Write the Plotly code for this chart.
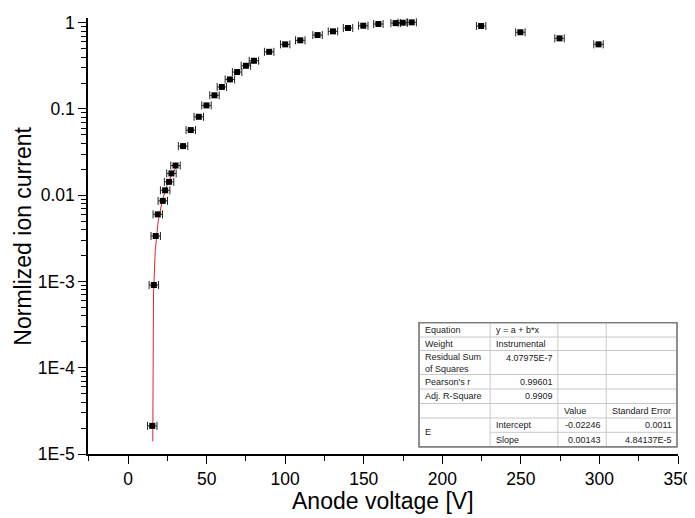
import numpy as np
import plotly.graph_objects as go

# ---------------- data ----------------
voltage = [15.4, 16.4, 17.6, 18.9, 22.1, 23.6, 26.1, 27.6, 30.2, 35.0, 39.9, 45.0, 49.9,
           55.0, 59.7, 64.8, 69.4, 75.0, 80.1, 89.8, 100.0, 109.6, 120.6, 130.4, 140.0,
           149.7, 159.3, 170.3, 174.8, 180.5, 224.7, 249.7, 274.6, 299.4]
ion_current = [2.12e-5, 9.1e-4, 3.37e-3, 6.0e-3, 8.6e-3, 1.14e-2, 1.43e-2, 1.79e-2, 2.21e-2,
               3.71e-2, 5.69e-2, 8.11e-2, 0.110, 0.144, 0.180, 0.220, 0.268, 0.317, 0.362,
               0.460, 0.561, 0.625, 0.719, 0.794, 0.869, 0.923, 0.966, 0.99, 1.0, 1.01,
               0.916, 0.775, 0.659, 0.561]
voltage_err = [3.0] * len(voltage)

# linear fit (from the fit table)
fit_intercept = -0.02246
fit_slope = 0.00143
fit_y_start = 1.4e-5
fit_x_end = 30.2

y_tickvals = [1e-5, 1e-4, 1e-3, 1e-2, 1e-1, 1]
y_ticktext = ["1E-5", "1E-4", "1E-3", "0.01", "0.1", "1"]

table_rows = [
    ["Equation", "y = a + b*x", "", ""],
    ["Weight", "Instrumental", "", ""],
    ["Residual Sum<br>of Squares", "4.07975E-7", "", ""],
    ["Pearson's r", "0.99601", "", ""],
    ["Adj. R-Square", "0.9909", "", ""],
    ["", "", "Value", "Standard Error"],
    ["E", "Intercept", "-0.02246", "0.0011"],
    ["", "Slope", "0.00143", "4.84137E-5"],
]

# ---------------- figure ----------------
W, H = 695, 518
OFF = 8  # page body margin
P_LEFT, P_RIGHT, P_TOP, P_BOT = 88.3, 677.7, 18, 454
L = P_LEFT - OFF
T = P_TOP - OFF
R = W - (P_RIGHT - OFF)
B = H - (P_BOT - OFF)
PW, PH = W - L - R, H - T - B
FONT = "Arial, 'Liberation Sans', sans-serif"

def px(x):  # page x pixel -> paper
    return (x - OFF - L) / PW

def py(y):  # page y pixel -> paper
    return (H - B - (y - OFF)) / PH

fig = go.Figure()

fy = np.geomspace(fit_y_start, fit_intercept + fit_slope * fit_x_end, 300)
fx = (fy - fit_intercept) / fit_slope
fig.add_trace(go.Scatter(x=fx, y=fy, mode="lines",
                         line=dict(color="#e32626", width=1), showlegend=False,
                         hoverinfo="skip"))

fig.add_trace(go.Scatter(
    x=voltage, y=ion_current, mode="markers",
    marker=dict(symbol="square", size=6, color="black"),
    error_x=dict(type="data", array=voltage_err, color="#222", thickness=1, width=4),
    showlegend=False))

minor_vals = [k * 10.0 ** e for e in range(-5, 0) for k in range(2, 10)]

fig.update_xaxes(range=[-25.5, 350], tick0=0, dtick=50, ticks="outside", ticklen=8,
                 tickwidth=1.3, tickcolor="black", showline=True, linecolor="black",
                 linewidth=1.5, showgrid=False, zeroline=False,
                 tickfont=dict(family=FONT, size=17.5, color="black"),
                 minor=dict(dtick=25, tick0=0, ticks="outside", ticklen=5,
                            tickcolor="black", tickwidth=1.3, showgrid=False))
fig.update_yaxes(type="log", range=[-5, 0.0546], tickmode="array", tickvals=y_tickvals,
                 ticktext=y_ticktext, ticks="outside", ticklen=8, tickwidth=1.3,
                 tickcolor="black", showline=True, linecolor="black", linewidth=1.5,
                 showgrid=False, zeroline=False,
                 tickfont=dict(family=FONT, size=17.5, color="black"),
                 minor=dict(tickmode="array", tickvals=minor_vals, ticks="outside",
                            ticklen=5, tickcolor="black", tickwidth=1, showgrid=False))

annotations = [
    dict(text="Anode voltage [V]", x=px((P_LEFT + P_RIGHT) / 2), y=py(501), xref="paper",
         yref="paper", showarrow=False, font=dict(family=FONT, size=23, color="black"),
         xanchor="center", yanchor="middle", borderpad=0),
    dict(text="Normlized ion current", x=px(23), y=py(236), xref="paper", yref="paper",
         showarrow=False, textangle=-90, font=dict(family=FONT, size=23, color="black"),
         xanchor="center", yanchor="middle", borderpad=0),
]

# ---------------- fit table ----------------
col_x = [419, 490, 557.7, 606, 676.7]
row_y = [322.7, 337, 350.5, 374.5, 389, 403.5, 418, 432.3, 446.8]
shapes = []
shapes.append(dict(type="rect", xref="paper", yref="paper", x0=px(col_x[0]), x1=px(col_x[-1]),
                   y0=py(row_y[-1]), y1=py(row_y[0]), fillcolor="white",
                   line=dict(color="#7a7a7a", width=1.2), layer="above"))
for i in range(1, len(row_y) - 1):
    x0 = col_x[0] if i != 7 else col_x[1]
    shapes.append(dict(type="line", xref="paper", yref="paper", x0=px(x0), x1=px(col_x[-1]),
                       y0=py(row_y[i]), y1=py(row_y[i]),
                       line=dict(color="#c8c8c8", width=1), layer="above"))
for j in range(1, len(col_x) - 1):
    shapes.append(dict(type="line", xref="paper", yref="paper", x0=px(col_x[j]), x1=px(col_x[j]),
                       y0=py(row_y[-1]), y1=py(row_y[0]),
                       line=dict(color="#c8c8c8", width=1), layer="above"))
shapes.append(dict(type="rect", xref="paper", yref="paper", x0=px(col_x[0]), x1=px(col_x[-1]),
                   y0=py(row_y[-1]), y1=py(row_y[0]), line=dict(color="#7a7a7a", width=1.2),
                   layer="above"))

def is_num(s):
    try:
        float(s)
        return True
    except ValueError:
        return False

pad = 4
for i, row in enumerate(table_rows):
    for j, txt in enumerate(row):
        if not txt:
            continue
        top, bot = row_y[i], row_y[i + 1]
        if i == 6 and j == 0:
            bot = row_y[8]
        if i == 2:
            yc = top + 7 if "<br>" not in txt else (top + bot) / 2
        else:
            yc = (top + bot) / 2
        right = is_num(txt)
        xa = col_x[j + 1] - pad if right else col_x[j] + pad + 1
        annotations.append(dict(text=txt, x=px(xa), y=py(yc), xref="paper", yref="paper",
                                showarrow=False, xanchor="right" if right else "left",
                                yanchor="middle", align="left", borderpad=0,
                                font=dict(family=FONT, size=9, color="#1a1a1a")))

fig.update_layout(width=W, height=H, margin=dict(l=L, r=R, t=T, b=B, autoexpand=False),
                  plot_bgcolor="white", paper_bgcolor="white", showlegend=False,
                  annotations=annotations, shapes=shapes)

fig.write_html("out.html")
